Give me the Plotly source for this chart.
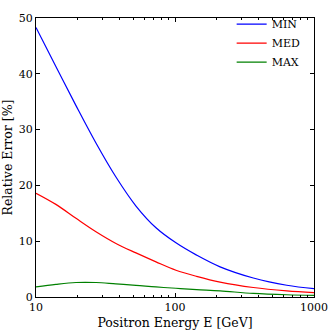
import plotly.graph_objects as go

energy = [10, 13.9, 19.4, 27.0, 37.6, 52.4, 73.0, 101.6, 143, 211, 366, 637, 1000]
err_min = [48.3, 41.3, 34.3, 27.6, 21.5, 16.3, 12.4, 9.7, 7.5, 5.4, 3.4, 2.1, 1.5]
err_med = [18.6, 16.6, 14.1, 11.7, 9.6, 7.9, 6.3, 4.8, 3.7, 2.67, 1.7, 1.1, 0.8]
err_max = [1.8, 2.26, 2.6, 2.6, 2.35, 2.1, 1.8, 1.57, 1.33, 1.1, 0.64, 0.4, 0.3]

minor_x = [v * d for d in (10, 100) for v in range(2, 10)]

fig = go.Figure()
for name, vals, col in [("MIN", err_min, "#0000ff"),
                        ("MED", err_med, "#ff0000"),
                        ("MAX", err_max, "#008000")]:
    fig.add_trace(go.Scatter(x=energy, y=vals, mode="lines", name=name,
                             line=dict(color=col, width=1.2, shape="spline")))

axis_common = dict(showline=True, linecolor="black", linewidth=1.3, mirror="ticks",
                   ticks="inside", ticklen=4, tickcolor="black", showgrid=False,
                   zeroline=False, automargin=False,
                   tickfont=dict(size=11, color="black"))

fig.update_xaxes(type="log", range=[1, 3], tickvals=[10, 100, 1000],
                 ticktext=["10", "100", "1000"],
                 minor=dict(tickvals=minor_x, ticks="inside", ticklen=2, tickcolor="black"),
                 title=dict(text="Positron Energy E [GeV]", font=dict(size=12.5, color="black"),
                            standoff=4),
                 **axis_common)
fig.update_yaxes(range=[0, 50], tickvals=[0, 10, 20, 30, 40, 50],
                 title=dict(text="Relative Error [%]", font=dict(size=12.5, color="black"),
                            standoff=7),
                 **axis_common)

fig.update_layout(width=332, height=332,
                  margin=dict(l=36, r=18, t=10, b=35),
                  paper_bgcolor="white", plot_bgcolor="white",
                  font=dict(family="DejaVu Serif", color="black"),
                  legend=dict(x=0.97, y=1.03, xanchor="right", yanchor="top",
                              bgcolor="rgba(0,0,0,0)", font=dict(size=11),
                              tracegroupgap=0, itemwidth=30))

# page body has an 8px default margin, drop it so the figure sits at 0,0
fig.write_html("out.html", config={"displayModeBar": False},
               post_script="document.body.style.margin='0';")
